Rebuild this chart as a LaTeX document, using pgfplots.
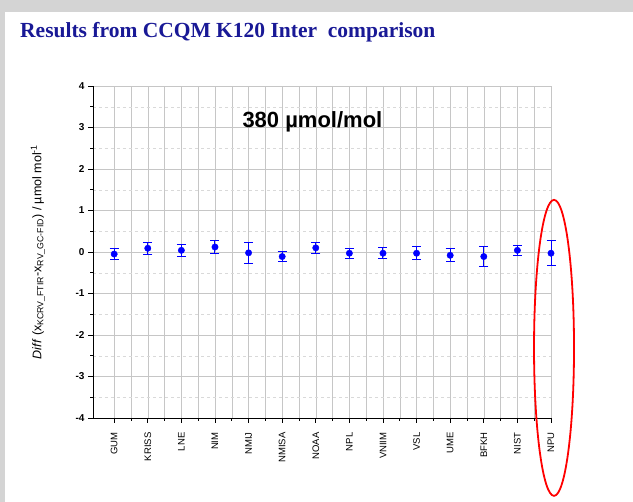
\documentclass[border=0pt]{standalone}
\usepackage{pgfplots}
\pgfplotsset{compat=1.18}
\usepackage{fontspec}
\setmainfont{Liberation Sans}
\newfontfamily\titlefont{Liberation Serif}
\definecolor{titleblue}{RGB}{25,25,150}
\definecolor{frame}{RGB}{212,212,212}

\pgfplotstableread{
x  y      e
0  -0.05  0.14
1   0.09  0.15
2   0.04  0.15
3   0.12  0.15
4  -0.02  0.25
5  -0.11  0.12
6   0.10  0.14
7  -0.03  0.12
8  -0.03  0.13
9  -0.03  0.16
10 -0.08  0.16
11 -0.11  0.25
12  0.04  0.12
13 -0.03  0.30
}\kdata

\begin{document}
\begin{tikzpicture}
\useasboundingbox (0pt,0pt) rectangle (633pt,502pt);
\fill[frame] (0pt,0pt) rectangle (633pt,502pt);
\fill[white] (5pt,0pt) rectangle (633pt,490pt);
\node[anchor=base west, inner sep=0, text=titleblue, font=\titlefont\bfseries\fontsize{21.5}{23}\selectfont]
  at (20pt,464pt) {Results from CCQM K120 Inter\ \ comparison};
\begin{axis}[
  at={(93pt,84pt)}, anchor=south west,
  scale only axis, width=458pt, height=332pt,
  xmin=-0.63, xmax=13, ymin=-4, ymax=4,
  axis x line=bottom, axis y line=left,
  axis line style={-, thick, black},
  xtick={0,...,13},
  xticklabels={GUM,KRISS,LNE,NIM,NMIJ,NMISA,NOAA,NPL,VNIIM,VSL,UME,BFKH,NIST,NPU},
  minor x tick num=1,
  ytick={-4,...,4},
  minor y tick num=1,
  tick align=outside,
  major tick length=5pt, minor tick length=3pt,
  tick style={black, thick},
  x tick label style={rotate=90, anchor=east, font=\fontsize{9.5}{10}\selectfont, xshift=-6pt},
  y tick label style={font=\fontsize{10}{11}\selectfont\bfseries},
  /pgf/number format/assume math mode=true,
  grid=both,
  major grid style={gray!45, thin},
  minor x grid style={gray!45, thin},
  minor y grid style={gray!30, dashed, thin},
  ylabel={\textit{Diff} (x\textsubscript{KCRV\_FTIR}-x\textsubscript{RV\_GC-FID}) / \textmu mol mol\textsuperscript{-1}},
  ylabel style={font=\fontsize{12.5}{13}\selectfont, at={(-55pt,0.5)}, anchor=center},
  clip=false,
]
\addplot[color=blue, only marks, mark=*, mark size=3.2pt,
  error bars/.cd, y dir=both, y explicit,
  error bar style={color=blue, line width=1pt},
  error mark options={rotate=90, mark size=4.5pt, line width=1pt, color=blue}]
  table[x=x, y=y, y error=e]{\kdata};
\node[font=\bfseries\fontsize{22}{24}\selectfont, inner sep=0] at (axis cs:5.9,3.13) {380 \textmu mol/mol};
\draw[red, line width=1.8pt] (axis cs:13.09,-2.31) ellipse [x radius=20pt, y radius=148pt];
\end{axis}
\end{tikzpicture}
\end{document}
